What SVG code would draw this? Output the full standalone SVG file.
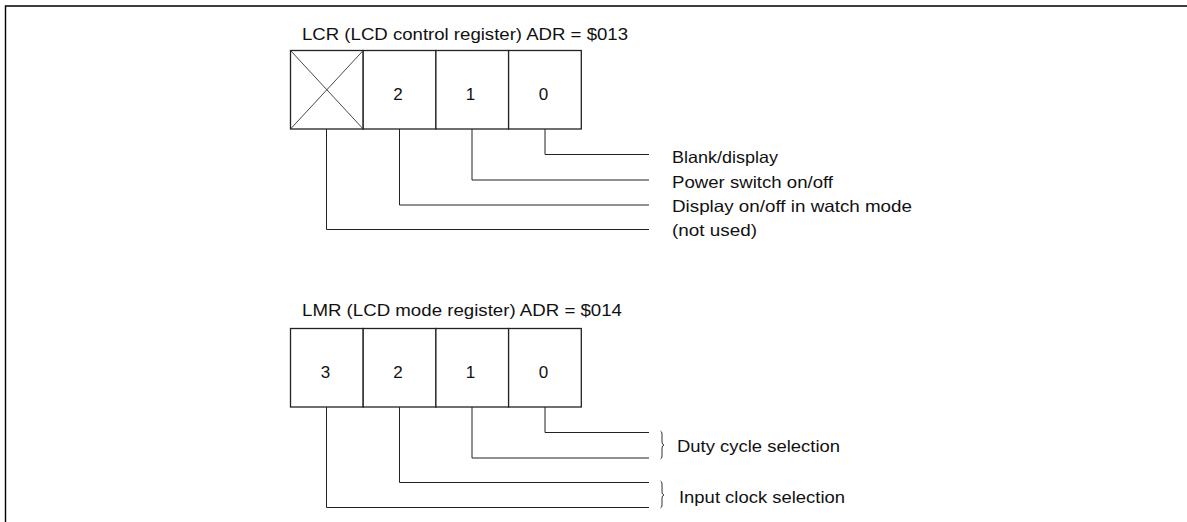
<svg xmlns="http://www.w3.org/2000/svg" width="1187" height="522" viewBox="0 0 1187 522">
<style>
  .frame{fill:none;stroke:#000;stroke-width:1.4}
  .cell{fill:#fff;stroke:#222;stroke-width:1.3}
  .x{stroke:#333;stroke-width:0.9}
  .lead{fill:none;stroke:#222;stroke-width:1}
  .brace{fill:none;stroke:#333;stroke-width:1}
  text{font-family:"Liberation Sans",Arial,sans-serif;fill:#111}
  text.title{font-size:17px}
  text.lbl{font-size:16.5px}
  text.num{font-size:17px;text-anchor:middle}
</style>
<rect width="1187" height="522" fill="#fff"/>
<path class="frame" d="M5.5 522 V6 H1187"/>

<g id="lcr">
  <text class="title" x="302" y="40" textLength="326" lengthAdjust="spacingAndGlyphs">LCR (LCD control register) ADR = $013</text>
  <g id="lcr-bit3">
    <rect class="cell" x="290.5" y="50.5" width="72.7" height="78.5"/>
    <line class="x" x1="290.5" y1="50.5" x2="363.2" y2="129"/>
    <line class="x" x1="363.2" y1="50.5" x2="290.5" y2="129"/>
  </g>
  <g id="lcr-bit2"><rect class="cell" x="363.2" y="50.5" width="72.7" height="78.5"/><text class="num" x="398" y="99.5">2</text></g>
  <g id="lcr-bit1"><rect class="cell" x="435.9" y="50.5" width="72.7" height="78.5"/><text class="num" x="470.5" y="99.5">1</text></g>
  <g id="lcr-bit0"><rect class="cell" x="508.6" y="50.5" width="72.7" height="78.5"/><text class="num" x="543.5" y="99.5">0</text></g>
</g>

<g id="lcr-labels">
  <text class="lbl" x="672" y="163" textLength="106" lengthAdjust="spacingAndGlyphs">Blank/display</text>
  <text class="lbl" x="672" y="187.5" textLength="161" lengthAdjust="spacingAndGlyphs">Power switch on/off</text>
  <text class="lbl" x="672" y="212" textLength="240" lengthAdjust="spacingAndGlyphs">Display on/off in watch mode</text>
  <text class="lbl" x="672" y="236" textLength="85" lengthAdjust="spacingAndGlyphs">(not used)</text>
</g>

<g id="lmr">
  <text class="title" x="302" y="316" textLength="320" lengthAdjust="spacingAndGlyphs">LMR (LCD mode register) ADR = $014</text>
  <g id="lmr-bit3"><rect class="cell" x="290.5" y="328.5" width="72.7" height="78.5"/><text class="num" x="325.5" y="377.5">3</text></g>
  <g id="lmr-bit2"><rect class="cell" x="363.2" y="328.5" width="72.7" height="78.5"/><text class="num" x="398" y="377.5">2</text></g>
  <g id="lmr-bit1"><rect class="cell" x="435.9" y="328.5" width="72.7" height="78.5"/><text class="num" x="470.5" y="377.5">1</text></g>
  <g id="lmr-bit0"><rect class="cell" x="508.6" y="328.5" width="72.7" height="78.5"/><text class="num" x="543.5" y="377.5">0</text></g>
</g>

<g id="lmr-labels">
  <text class="lbl" x="677" y="452" textLength="163" lengthAdjust="spacingAndGlyphs">Duty cycle selection</text>
  <text class="lbl" x="679" y="503" textLength="166" lengthAdjust="spacingAndGlyphs">Input clock selection</text>
  <path class="brace" d="M660.5 431 Q662 431.5 662 434 V442 Q662 444.5 664 445 Q662 445.5 662 448 V456 Q662 458.5 660.5 459"/>
  <path class="brace" d="M660.5 481 Q662 481.5 662 484 V492 Q662 494.5 664 495 Q662 495.5 662 498 V505 Q662 507.5 660.5 508"/>
</g>

<g id="connectors">
  <path class="lead" d="M545 129 V154.5 H649"/>
  <path class="lead" d="M472 129 V180 H649"/>
  <path class="lead" d="M399.5 129 V205 H649"/>
  <path class="lead" d="M326.5 129 V229.5 H649"/>
  <path class="lead" d="M545 407 V432.5 H649"/>
  <path class="lead" d="M472 407 V458 H649"/>
  <path class="lead" d="M399.5 407 V482.5 H649"/>
  <path class="lead" d="M326.5 407 V507.5 H649"/>
</g>
</svg>
